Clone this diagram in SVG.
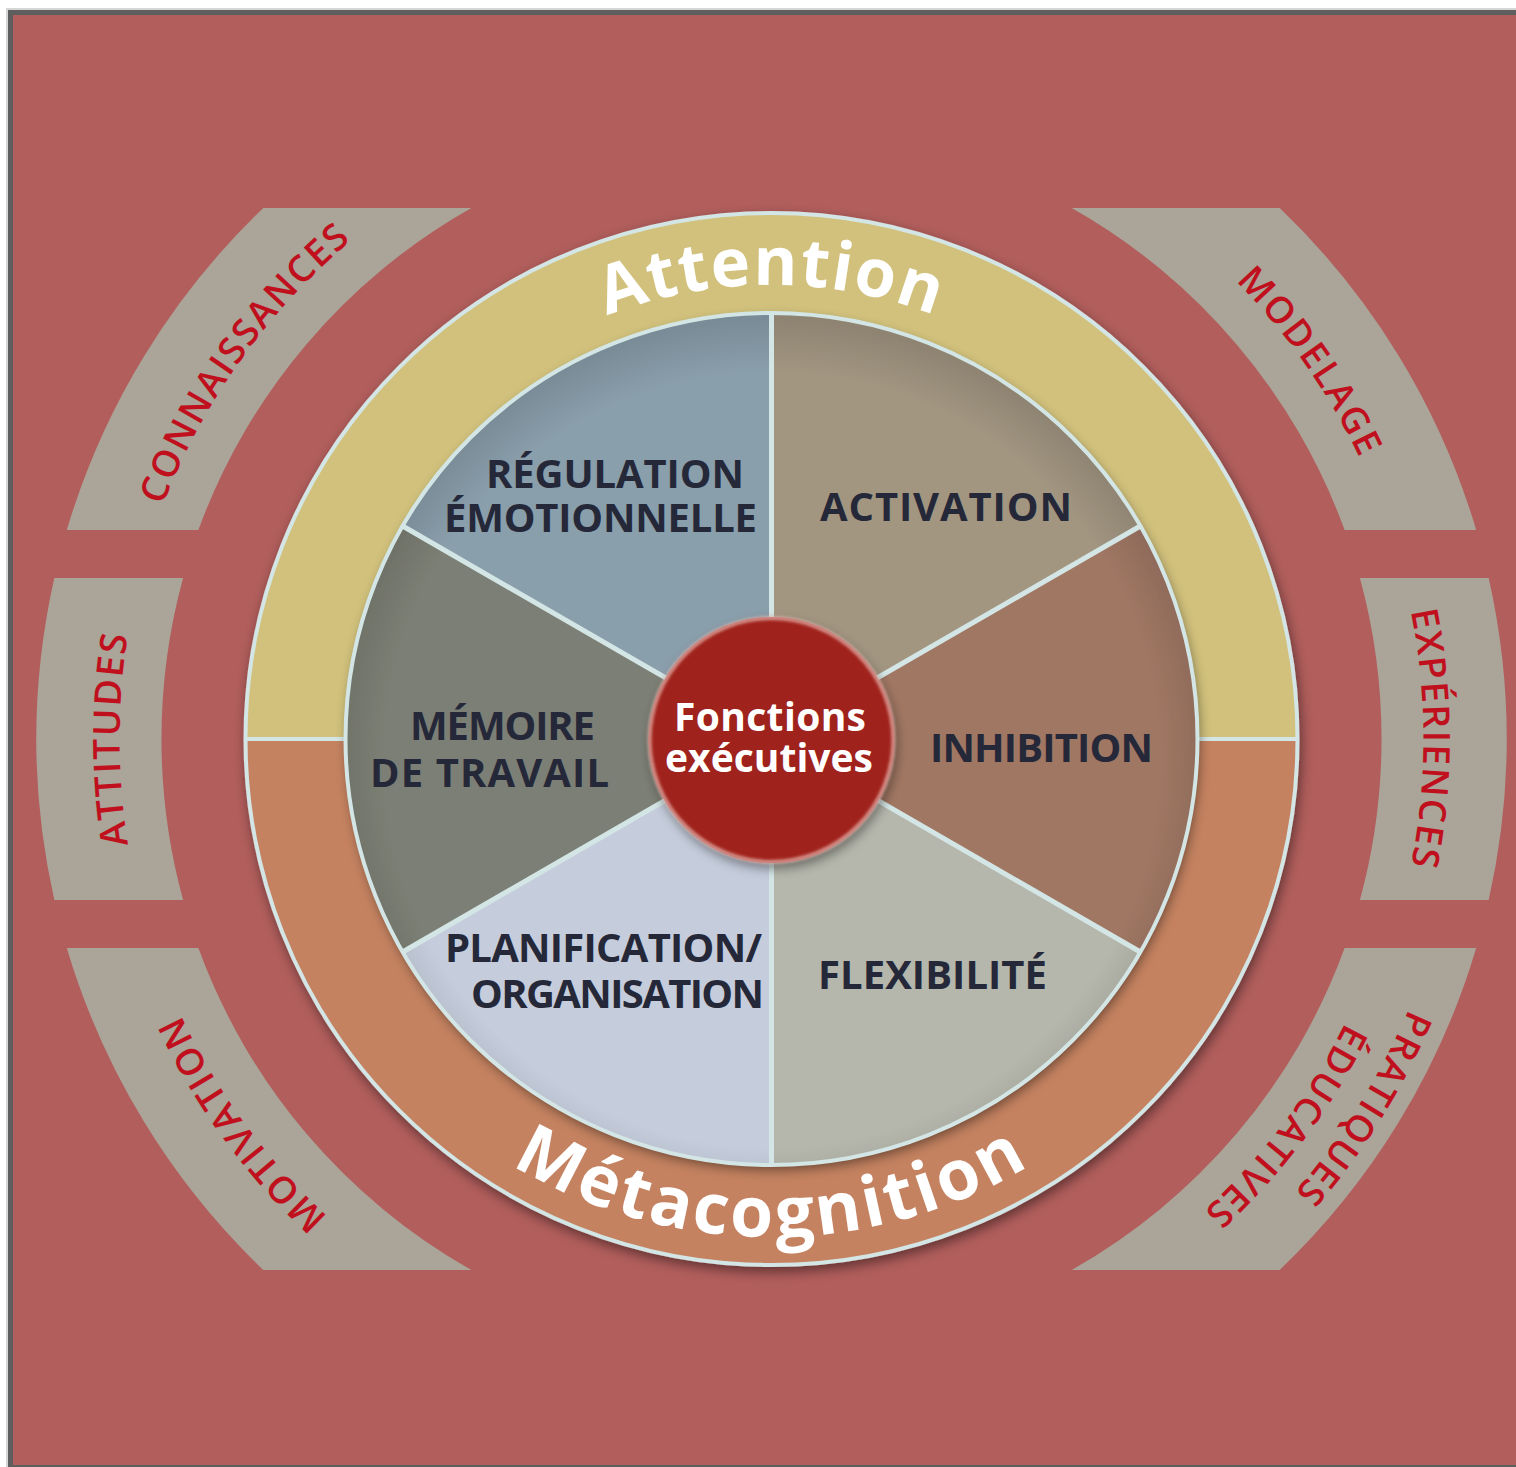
<svg xmlns="http://www.w3.org/2000/svg" xmlns:xlink="http://www.w3.org/1999/xlink" width="1516" height="1467" viewBox="0 0 1516 1467">
  <style>
    .band { fill: #ABA498; }
    .band-label { font-family: "Open Sans", "Liberation Sans", sans-serif; font-size: 37px; font-weight: 600; fill: #C0101E; letter-spacing: 2px; }
    .ring-label { font-family: "Open Sans", "Liberation Sans", sans-serif; font-weight: 700; fill: #FFFFFF; }
    .slice-label { font-family: "Open Sans", "Liberation Sans", sans-serif; font-size: 40px; font-weight: 700; fill: #252838; text-anchor: middle; }
    .core-label { font-family: "Open Sans", "Liberation Sans", sans-serif; font-size: 39px; font-weight: 700; fill: #FFFFFF; text-anchor: middle; }
    .edge { fill: none; stroke: #D3E6E5; stroke-width: 4; }
    .divider { stroke: #D3E6E5; stroke-width: 5; stroke-linecap: butt; }
  </style>
  <defs>
    <filter id="shadow" x="-10%" y="-10%" width="120%" height="120%">
      <feDropShadow dx="2" dy="5" stdDeviation="6" flood-color="#000" flood-opacity="0.45"/>
    </filter>
    <filter id="soft" x="-10%" y="-10%" width="120%" height="120%">
      <feGaussianBlur stdDeviation="1.6"/>
    </filter>
    <radialGradient id="pieShade" cx="771.5" cy="760" r="440" gradientUnits="userSpaceOnUse">
      <stop offset="0.88" stop-color="#000" stop-opacity="0"/>
      <stop offset="1" stop-color="#000" stop-opacity="0.12"/>
    </radialGradient>
    <!-- baselines for the curved labels, all centred on the wheel -->
    <path id="arcConnaissances" d="M 140.3,902.3 A 652 652 0 0 1 720.3,89.0"/>
    <path id="arcAttitudes" d="M 352.4,1238.4 A 652 652 0 0 1 352.4,239.6"/>
    <path id="arcMotivation" d="M 726.0,1389.4 A 652 652 0 0 1 138.9,581.3"/>
    <path id="arcModelage" d="M 828.3,89.5 A 652 652 0 0 1 1401.3,907.7"/>
    <path id="arcExperiences" d="M 1190.6,239.6 A 652 652 0 0 1 1190.6,1238.4"/>
    <path id="arcPratiques" d="M 1429.7,525.2 A 692 692 0 0 1 867.8,1424.3"/>
    <path id="arcEducatives" d="M 1395.1,595.0 A 640 640 0 0 1 805.0,1378.1"/>
    <path id="arcAttention" d="M 378.3,512 A 454 454 0 0 1 1164.7,512"/>
    <path id="arcMetacognition" d="M 338.5,989 A 502 502 0 0 0 1204.5,989"/>
  </defs>

  <!-- frame and background -->
  <rect x="6" y="8" width="1510" height="1459" fill="#D6D6D6"/>
  <rect x="8" y="10" width="1508" height="1457" fill="#5E5E5E"/>
  <rect x="13" y="15" width="1503" height="1450" fill="#B15E5C"/>

  <!-- outer bands -->
  <g id="connaissances">
    <path class="band" d="M 263.3,208 L 471.3,208 A 610 610 0 0 0 198.4,530 L 66.8,530 A 735 735 0 0 1 263.3,208 Z"/>
    <text class="band-label"><textPath href="#arcConnaissances" xlink:href="#arcConnaissances" startOffset="50%" text-anchor="middle">CONNAISSANCES</textPath></text>
  </g>
  <g id="attitudes">
    <path class="band" d="M 54.3,578 L 183.1,578 A 610 610 0 0 0 183.1,900 L 54.3,900 A 735 735 0 0 1 54.3,578 Z"/>
    <text class="band-label"><textPath href="#arcAttitudes" xlink:href="#arcAttitudes" startOffset="50%" text-anchor="middle">ATTITUDES</textPath></text>
  </g>
  <g id="motivation">
    <path class="band" d="M 66.8,948 L 198.4,948 A 610 610 0 0 0 471.3,1270 L 263.3,1270 A 735 735 0 0 1 66.8,948 Z"/>
    <text class="band-label"><textPath href="#arcMotivation" xlink:href="#arcMotivation" startOffset="50%" text-anchor="middle">MOTIVATION</textPath></text>
  </g>
  <g id="modelage">
    <path class="band" d="M 1279.7,208 L 1071.7,208 A 610 610 0 0 1 1344.6,530 L 1476.2,530 A 735 735 0 0 0 1279.7,208 Z"/>
    <text class="band-label"><textPath href="#arcModelage" xlink:href="#arcModelage" startOffset="50%" text-anchor="middle">MODELAGE</textPath></text>
  </g>
  <g id="experiences">
    <path class="band" d="M 1488.7,578 L 1359.9,578 A 610 610 0 0 1 1359.9,900 L 1488.7,900 A 735 735 0 0 0 1488.7,578 Z"/>
    <text class="band-label"><textPath href="#arcExperiences" xlink:href="#arcExperiences" startOffset="50%" text-anchor="middle">EXPÉRIENCES</textPath></text>
  </g>
  <g id="pratiques-educatives">
    <path class="band" d="M 1476.2,948 L 1344.6,948 A 610 610 0 0 1 1071.7,1270 L 1279.7,1270 A 735 735 0 0 0 1476.2,948 Z"/>
    <text class="band-label"><textPath href="#arcPratiques" xlink:href="#arcPratiques" startOffset="50%" text-anchor="middle">PRATIQUES</textPath></text>
    <text class="band-label"><textPath href="#arcEducatives" xlink:href="#arcEducatives" startOffset="50%" text-anchor="middle">ÉDUCATIVES</textPath></text>
  </g>

  <!-- Attention / Métacognition ring -->
  <g id="ring" filter="url(#shadow)">
    <path id="attention-half" fill="#D1C17C" d="M 245.5,739 A 526 526 0 0 1 1297.5,739 L 1197.5,739 A 426 426 0 0 0 345.5,739 Z"/>
    <path id="metacognition-half" fill="#C48261" d="M 1297.5,739 A 526 526 0 0 1 245.5,739 L 345.5,739 A 426 426 0 0 0 1197.5,739 Z"/>
    <circle class="edge" cx="771.5" cy="739" r="526"/>
    <line class="edge" x1="245.5" y1="739" x2="345.5" y2="739" stroke-width="3"/>
    <line class="edge" x1="1197.5" y1="739" x2="1297.5" y2="739" stroke-width="3"/>
  </g>
  <g id="attention">
    <text class="ring-label" font-size="67" letter-spacing="1.5"><textPath href="#arcAttention" xlink:href="#arcAttention" startOffset="50%" text-anchor="middle">Attention</textPath></text>
  </g>
  <g id="metacognition">
    <text class="ring-label" font-size="70" letter-spacing="3"><textPath href="#arcMetacognition" xlink:href="#arcMetacognition" startOffset="50%" text-anchor="middle">Métacognition</textPath></text>
  </g>

  <!-- six executive functions -->
  <g id="pie" filter="url(#shadow)">
    <g id="regulation-emotionnelle">
      <path fill="#8A9FAC" d="M 771.5,739 L 402.6,526 A 426 426 0 0 1 771.5,313 Z"/>
    </g>
    <g id="activation">
      <path fill="#A29681" d="M 771.5,739 L 771.5,313 A 426 426 0 0 1 1140.4,526 Z"/>
    </g>
    <g id="inhibition">
      <path fill="#A07764" d="M 771.5,739 L 1140.4,526 A 426 426 0 0 1 1140.4,952 Z"/>
    </g>
    <g id="flexibilite">
      <path fill="#B5B7AC" d="M 771.5,739 L 1140.4,952 A 426 426 0 0 1 771.5,1165 Z"/>
    </g>
    <g id="planification-organisation">
      <path fill="#C5CDDC" d="M 771.5,739 L 771.5,1165 A 426 426 0 0 1 402.6,952 Z"/>
    </g>
    <g id="memoire-de-travail">
      <path fill="#7C7F74" d="M 771.5,739 L 402.6,952 A 426 426 0 0 1 402.6,526 Z"/>
    </g>
    <circle cx="771.5" cy="739" r="426" fill="url(#pieShade)"/>
  </g>

  <g id="connectors">
    <line class="divider" x1="771.5" y1="739" x2="771.5" y2="313"/>
    <line class="divider" x1="771.5" y1="739" x2="1140.4" y2="526"/>
    <line class="divider" x1="771.5" y1="739" x2="1140.4" y2="952"/>
    <line class="divider" x1="771.5" y1="739" x2="771.5" y2="1165"/>
    <line class="divider" x1="771.5" y1="739" x2="402.6" y2="952"/>
    <line class="divider" x1="771.5" y1="739" x2="402.6" y2="526"/>
    <circle class="edge" cx="771.5" cy="739" r="426"/>
  </g>

  <g id="slice-labels">
    <text class="slice-label" x="615" y="488" textLength="258">RÉGULATION</text>
    <text class="slice-label" x="600.5" y="532" textLength="313">ÉMOTIONNELLE</text>
    <text class="slice-label" x="946" y="521" textLength="252">ACTIVATION</text>
    <text class="slice-label" x="1041.5" y="762" textLength="223">INHIBITION</text>
    <text class="slice-label" x="932.5" y="989" textLength="229">FLEXIBILITÉ</text>
    <text class="slice-label" x="603.5" y="962" textLength="317">PLANIFICATION/</text>
    <text class="slice-label" x="617.5" y="1008" textLength="293">ORGANISATION</text>
    <text class="slice-label" x="502.5" y="740" textLength="185">MÉMOIRE</text>
    <text class="slice-label" x="489.5" y="787" textLength="239">DE TRAVAIL</text>
  </g>

  <!-- core -->
  <g id="fonctions-executives">
    <circle cx="771.5" cy="740" r="123" fill="#A0231D" filter="url(#shadow)"/>
    <circle cx="771.5" cy="740" r="122" fill="none" stroke="#E9BDB5" stroke-width="4" opacity="0.75" filter="url(#soft)"/>
    <text class="core-label" x="770" y="731" textLength="192">Fonctions</text>
    <text class="core-label" x="769" y="772" textLength="208">exécutives</text>
  </g>
</svg>
